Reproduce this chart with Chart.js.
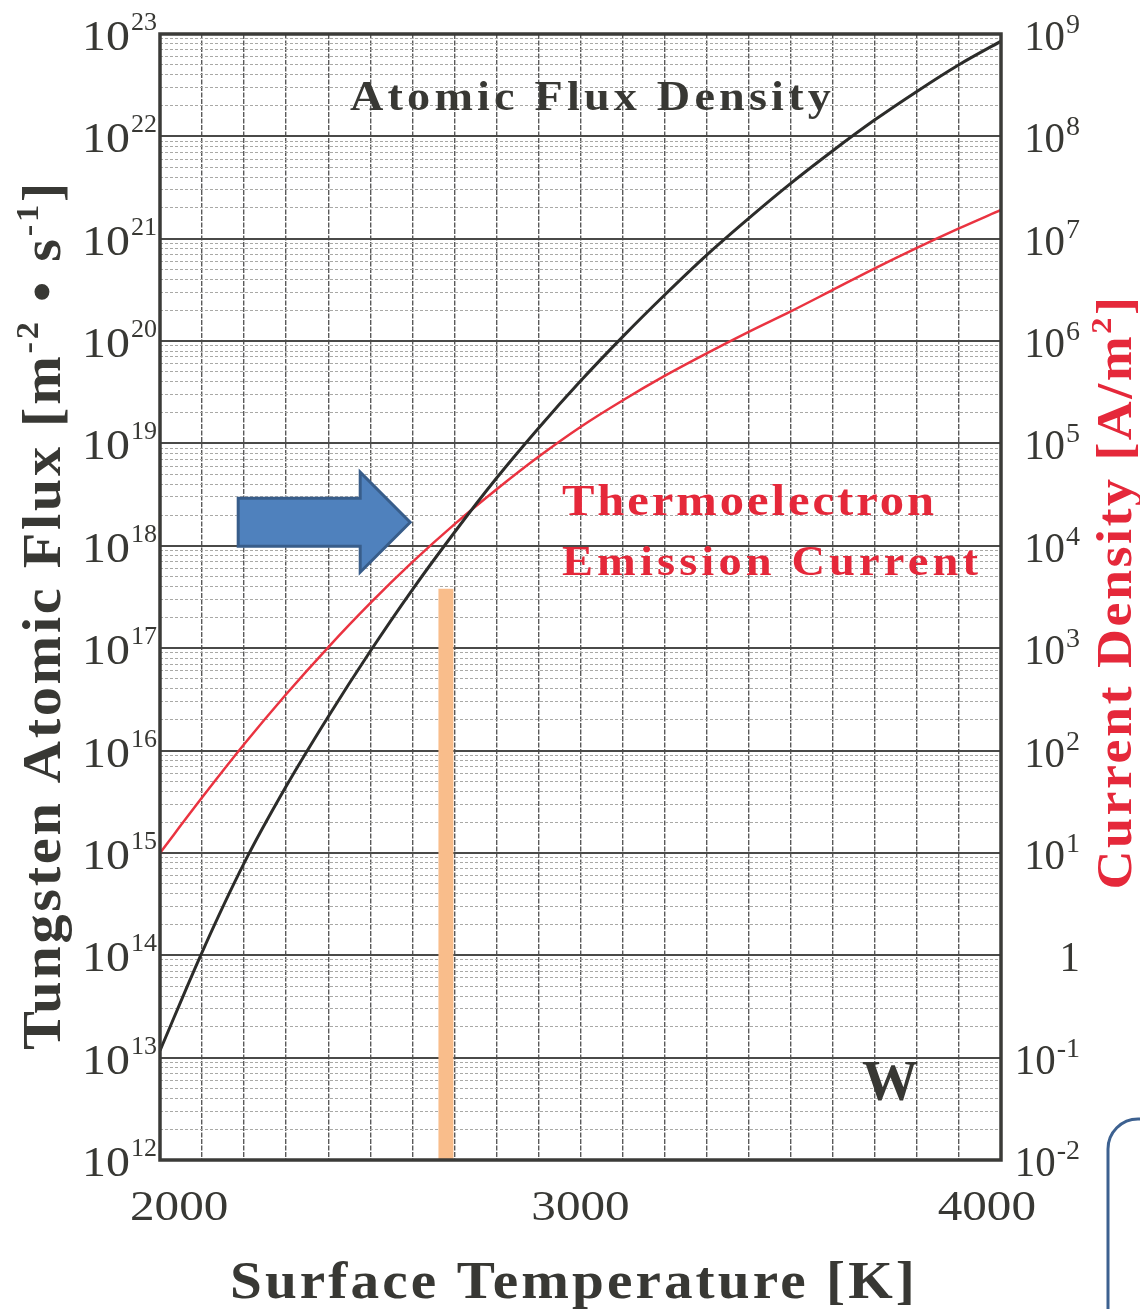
<!DOCTYPE html>
<html>
<head>
<meta charset="utf-8">
<title>Tungsten atomic flux and thermoelectron emission</title>
<script src="https://cdn.jsdelivr.net/npm/chart.js@4.4.1/dist/chart.umd.min.js"></script>
<style>
    html, body { margin: 0; padding: 0; background: #fff; }
    #wrap { width: 1140px; height: 1309px; position: relative; }
</style>
</head>
<body>
<div id="wrap"><canvas id="chart"></canvas></div>
<script>
// Surface temperature [K]
const temperatures = [2000, 2100, 2200, 2300, 2400, 2500, 2600, 2700, 2800, 2900, 3000,
                      3100, 3200, 3300, 3400, 3500, 3600, 3700, 3800, 3900, 4000];
// Tungsten atomic flux [m^-2 s^-1] (left axis)
const atomicFlux = [1.17e13, 1.07e14, 7.94e14, 4.47e15, 2.14e16, 9.33e16, 3.72e17, 1.35e18,
                    4.57e18, 1.41e19, 4.07e19, 1.10e20, 2.82e20, 6.92e20, 1.58e21, 3.47e21,
                    7.24e21, 1.45e22, 2.75e22, 5.01e22, 8.51e22];
// Thermoelectron emission current density [A/m^2] (right axis)
const currentDensity = [10, 34.7, 115, 355, 1020, 2750, 6920, 1.62e4, 3.55e4, 7.41e4, 1.45e5,
                        2.63e5, 4.57e5, 7.59e5, 1.23e6, 1.95e6, 3.16e6, 5.13e6, 8.13e6, 1.26e7, 1.91e7];

// Tick labels
const fluxDecades = [12, 13, 14, 15, 16, 17, 18, 19, 20, 21, 22, 23];
const currentDecades = [-2, -1, 0, 1, 2, 3, 4, 5, 6, 7, 8, 9];
const minorSteps = [2, 3, 4, 5, 6, 7, 8, 9];
const temperatureLabels = [2000, 3000, 4000];

// Annotations
const markerTemperature = 2680;
const markerFluxRange = [1e12, 3.8e17];
const arrowTip = { temperature: 2595, flux: 1.7e18 };

const SERIF = '"Liberation Serif", "DejaVu Serif", "Times New Roman", serif';
const DARK = '#383834';
const RED = '#e5283a';

function decadeTicks(decades, withMinor) {
    const ticks = [];
    decades.forEach((e, i) => {
        ticks.push({ value: Math.pow(10, e), major: true, exp: e });
        if (withMinor && i < decades.length - 1) {
            minorSteps.forEach(k => ticks.push({ value: k * Math.pow(10, e), major: false }));
        }
    });
    return ticks.sort((a, b) => a.value - b.value);
}

// draw text runs (with superscripts), widened by sx and spaced out to a target width
function drawRuns(ctx, runs, o) {
    ctx.save();
    ctx.translate(o.x, o.y);
    if (o.rotate) ctx.rotate(o.rotate);
    ctx.fillStyle = o.color;
    ctx.textBaseline = 'alphabetic';
    ctx.textAlign = 'left';
    let natural = 0, chars = 0;
    runs.forEach(r => {
        ctx.font = `${o.weight || 'normal'} ${r.size}px ${SERIF}`;
        ctx.letterSpacing = '0px';
        r.w = ctx.measureText(r.text).width;
        natural += r.w;
        chars += r.text.length;
    });
    let sx = o.sx || 1, spacing = 0;
    if (o.width) {
        spacing = (o.width - natural * sx) / chars / sx;
        if (spacing < 0) { sx = o.width / natural; spacing = 0; }
    }
    const total = o.width || natural * sx;
    ctx.scale(sx, 1);
    let cx = o.align === 'center' ? -total / 2 / sx : o.align === 'right' ? -total / sx : 0;
    runs.forEach(r => {
        ctx.font = `${o.weight || 'normal'} ${r.size}px ${SERIF}`;
        ctx.letterSpacing = spacing + 'px';
        ctx.fillText(r.text, cx, -(r.rise || 0));
        cx += r.w + spacing * r.text.length;
    });
    ctx.restore();
}

// "10" with a superscript exponent, anchored by its right edge
function drawPower(ctx, exp, right, y, base) {
    ctx.save();
    ctx.fillStyle = DARK;
    ctx.textBaseline = 'alphabetic';
    ctx.textAlign = 'left';
    ctx.letterSpacing = '0px';
    if (exp === 0) {
        ctx.font = `normal ${base.size}px ${SERIF}`;
        const w = ctx.measureText('1').width * base.sx;
        ctx.translate(right - w, y + 16);
        ctx.scale(base.sx, 1);
        ctx.fillText('1', 0, 0);
        ctx.restore();
        return;
    }
    const supText = exp < 0 ? '-' + Math.abs(exp) : String(exp);
    ctx.font = `normal ${base.supSize}px ${SERIF}`;
    const supW = ctx.measureText(supText).width;
    ctx.font = `normal ${base.size}px ${SERIF}`;
    const baseW = ctx.measureText('10').width * base.sx;
    const left = right - supW - baseW - 1;
    ctx.save();
    ctx.translate(left, y + 16);
    ctx.scale(base.sx, 1);
    ctx.fillText('10', 0, 0);
    ctx.restore();
    ctx.font = `normal ${base.supSize}px ${SERIF}`;
    ctx.fillText(supText, left + baseW + 1, y - base.supRise);
    ctx.restore();
}

const annotations = {
    id: 'annotations',
    afterDatasetsDraw(chart) {
        const ctx = chart.ctx;
        const x = chart.scales.x, yl = chart.scales.yFlux;
        // blue arrow pointing at the crossing
        const tx = x.getPixelForValue(arrowTip.temperature);
        const ty = yl.getPixelForValue(arrowTip.flux);
        const len = 172, head = 50, body = 24, half = 50;
        ctx.save();
        ctx.beginPath();
        ctx.moveTo(tx, ty);
        ctx.lineTo(tx - head, ty - half);
        ctx.lineTo(tx - head, ty - body);
        ctx.lineTo(tx - len, ty - body);
        ctx.lineTo(tx - len, ty + body);
        ctx.lineTo(tx - head, ty + body);
        ctx.lineTo(tx - head, ty + half);
        ctx.closePath();
        ctx.fillStyle = '#4f81bd';
        ctx.fill();
        ctx.lineWidth = 3;
        ctx.strokeStyle = '#385d8a';
        ctx.stroke();
        ctx.restore();
    },
    afterDraw(chart) {
        const ctx = chart.ctx;
        const a = chart.chartArea;
        const x = chart.scales.x, yl = chart.scales.yFlux, yr = chart.scales.yCurrent;

        // frame
        ctx.save();
        ctx.lineWidth = 3.5;
        ctx.strokeStyle = '#3b3b38';
        ctx.strokeRect(a.left, a.top, a.right - a.left, a.bottom - a.top);
        ctx.restore();

        // left tick labels
        yl.ticks.filter(t => t.major).forEach(t => {
            drawPower(ctx, t.exp, a.left - 3, yl.getPixelForValue(t.value),
                { size: 42, sx: 1.14, supSize: 26, supRise: 4 });
        });
        // right tick labels
        yr.ticks.filter(t => t.major).forEach(t => {
            drawPower(ctx, t.exp, a.right + 79, yr.getPixelForValue(t.value),
                { size: 43, sx: 0.95, supSize: 28, supRise: 1 });
        });
        // bottom tick labels
        ctx.save();
        ctx.fillStyle = DARK;
        ctx.font = `normal 42px ${SERIF}`;
        ctx.textAlign = 'left';
        ctx.textBaseline = 'alphabetic';
        temperatureLabels.forEach(v => {
            const txt = String(v);
            const w = ctx.measureText(txt).width * 1.17;
            let left = x.getPixelForValue(v) - w / 2;
            left = Math.max(left, a.left - 30);
            left = Math.min(left, a.right + 35 - w);
            ctx.save();
            ctx.translate(left, a.bottom + 60);
            ctx.scale(1.17, 1);
            ctx.fillText(txt, 0, 0);
            ctx.restore();
        });
        ctx.restore();

        // axis titles
        drawRuns(ctx, [{ text: 'Surface Temperature [K]', size: 53 }],
            { x: 574, y: 1298, width: 688, sx: 1.08, align: 'center', color: DARK, weight: 'bold' });
        drawRuns(ctx, [
            { text: 'Tungsten Atomic Flux [m', size: 54 },
            { text: '-2', size: 32, rise: 22 },
            { text: ' \u2022 s', size: 54 },
            { text: '-1', size: 32, rise: 22 },
            { text: ']', size: 54 }
        ], { x: 60, y: 615, width: 870, sx: 1.08, align: 'center', color: DARK, weight: 'bold', rotate: -Math.PI / 2 });
        drawRuns(ctx, [
            { text: 'Current Density [A/m', size: 50 },
            { text: '2', size: 30, rise: 20 },
            { text: ']', size: 50 }
        ], { x: 1131, y: 592, width: 595, sx: 1.08, align: 'center', color: RED, weight: 'bold', rotate: -Math.PI / 2 });

        // in-plot labels
        drawRuns(ctx, [{ text: 'Atomic Flux Density', size: 42 }],
            { x: 350, y: 110, width: 485, sx: 1.1, color: DARK, weight: 'bold' });
        drawRuns(ctx, [{ text: 'Thermoelectron', size: 45 }],
            { x: 562, y: 515, width: 375, sx: 1.08, color: RED, weight: 'bold' });
        drawRuns(ctx, [{ text: 'Emission Current', size: 43 }],
            { x: 562, y: 575, width: 420, sx: 1.08, color: RED, weight: 'bold' });
        drawRuns(ctx, [{ text: 'W', size: 56 }],
            { x: 862, y: 1100, color: DARK, weight: 'bold' });

        // partial rounded box at the lower right edge
        ctx.save();
        ctx.lineWidth = 3;
        ctx.strokeStyle = '#3d6190';
        ctx.beginPath();
        ctx.roundRect(1108, 1119, 120, 240, 30);
        ctx.stroke();
        ctx.restore();
    }
};

const ctx = document.getElementById('chart').getContext('2d');
const chart = new Chart(ctx, {
    type: 'line',
    data: {
        datasets: [
            {
                label: 'Atomic Flux Density',
                data: temperatures.map((t, i) => ({ x: t, y: atomicFlux[i] })),
                yAxisID: 'yFlux',
                borderColor: '#2c2c2a',
                borderWidth: 3,
                pointRadius: 0,
                cubicInterpolationMode: 'monotone'
            },
            {
                label: 'Thermoelectron Emission Current',
                data: temperatures.map((t, i) => ({ x: t, y: currentDensity[i] })),
                yAxisID: 'yCurrent',
                borderColor: '#ea3340',
                borderWidth: 2.5,
                pointRadius: 0,
                cubicInterpolationMode: 'monotone'
            },
            {
                label: 'marker',
                data: markerFluxRange.map(v => ({ x: markerTemperature, y: v })),
                yAxisID: 'yFlux',
                borderColor: '#f9bd8b',
                borderWidth: 15,
                borderCapStyle: 'butt',
                pointRadius: 0
            }
        ]
    },
    options: {
        responsive: true,
        maintainAspectRatio: false,
        animation: false,
        devicePixelRatio: 1,
        layout: { padding: { top: 34, left: 0, right: 0, bottom: 0 } },
        plugins: {
            legend: { display: false },
            tooltip: { enabled: false }
        },
        scales: {
            x: {
                type: 'linear',
                min: 2000,
                max: 4000,
                ticks: { display: false, stepSize: 100 },
                grid: { color: '#5a5a5a', lineWidth: 1.4, drawTicks: false },
                border: { display: false, dash: [5, 1.5] },
                afterFit: s => { s.height = 149; }
            },
            yFlux: {
                type: 'logarithmic',
                position: 'left',
                min: 1e12,
                max: 1e23,
                ticks: { display: false },
                afterBuildTicks: s => { s.ticks = decadeTicks(fluxDecades, true); },
                grid: {
                    drawTicks: false,
                    color: c => c.tick && c.tick.major ? '#4a4a48' : '#a9a9a6',
                    lineWidth: c => c.tick && c.tick.major ? 2 : 1
                },
                border: {
                    display: false,
                    dash: c => c.tick && c.tick.major ? [] : [3, 2]
                },
                afterFit: s => { s.width = 160; }
            },
            yCurrent: {
                type: 'logarithmic',
                position: 'right',
                min: 1e-2,
                max: 1e9,
                ticks: { display: false },
                afterBuildTicks: s => { s.ticks = decadeTicks(currentDecades, false); },
                grid: { display: false, drawTicks: false },
                border: { display: false },
                afterFit: s => { s.width = 139; }
            }
        }
    },
    plugins: [annotations]
});
</script>
</body>
</html>
